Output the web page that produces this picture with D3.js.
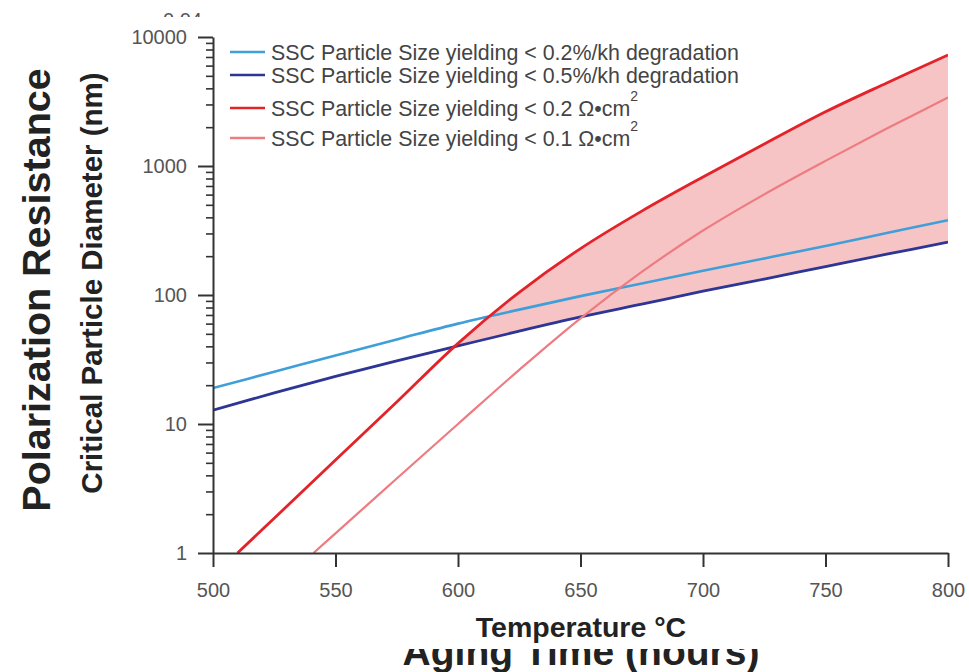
<!DOCTYPE html>
<html>
<head>
<meta charset="utf-8">
<script src="https://cdn.jsdelivr.net/npm/d3@7"></script>
<style>
  body { margin: 0; background: #fff; }
  svg { display: block; font-family: "Liberation Sans", Arial, sans-serif; }
</style>
</head>
<body>
<svg id="chart" width="969" height="672"></svg>
<script>
// temperatures (°C) and critical particle diameters (nm)
var temps = [500, 525, 550, 575, 600, 625, 650, 675, 700, 725, 750, 775, 800];
var lightBlue = [19, 25.4, 34, 45.2, 60, 77, 98, 123, 154, 192, 240, 302, 380];
var darkBlue = [12.8, 17.4, 23.4, 30.9, 40.3, 52.5, 67.6, 85, 107, 133, 166, 207, 257];

var redTemps = [510, 525, 550, 575, 600, 625, 650, 675, 700, 725, 750, 775, 800];
var red = [1, 1.86, 5.25, 14.8, 42.2, 105, 229, 447, 822, 1480, 2630, 4400, 7250];

var pinkTemps = [541, 550, 575, 600, 625, 650, 675, 700, 725, 750, 775, 800];
var pink = [1, 1.42, 3.78, 10, 26.3, 66, 151, 316, 603, 1096, 1950, 3390];

var xTicks = [500, 550, 600, 650, 700, 750, 800];
var yTicks = [1, 10, 100, 1000, 10000];

var legendLabels = [
  {text: "SSC Particle Size yielding < 0.2%/kh degradation", sup: ""},
  {text: "SSC Particle Size yielding < 0.5%/kh degradation", sup: ""},
  {text: "SSC Particle Size yielding < 0.2 \u03A9\u2022cm", sup: "2"},
  {text: "SSC Particle Size yielding < 0.1 \u03A9\u2022cm", sup: "2"}
];
var colors = ["#3f9fd8", "#2d3595", "#e3232a", "#ee7b80"];

var svg = d3.select("#chart");

var x = d3.scaleLinear().domain([500, 800]).range([213, 948]);
var y = d3.scaleLog().domain([1, 10000]).range([553, 37]);

var toPts = function(xs, ys) { return xs.map((t, i) => [t, ys[i]]); };
var curve = d3.curveCatmullRom.alpha(0.5);

var defs = svg.append("defs");
defs.append("clipPath").attr("id", "plot")
  .append("rect").attr("x", 213).attr("y", 37).attr("width", 735).attr("height", 516);

// region under the red curve, used to cut the shaded band
defs.append("clipPath").attr("id", "underRed")
  .append("path")
  .attr("d", d3.area()
    .x(d => x(d[0])).y0(553).y1(d => y(d[1]))
    .curve(curve)(toPts(redTemps, red)));

// shaded band: above dark blue, below red
svg.append("path")
  .attr("clip-path", "url(#underRed)")
  .attr("fill", "#f7c4c6")
  .attr("d", d3.area()
    .x(d => x(d[0])).y0(d => y(d[1])).y1(0)
    .curve(curve)(toPts(temps, darkBlue)));

var line = d3.line().x(d => x(d[0])).y(d => y(d[1])).curve(curve);

var series = [
  {pts: toPts(temps, lightBlue), c: colors[0], w: 2.6},
  {pts: toPts(temps, darkBlue), c: colors[1], w: 2.8},
  {pts: toPts(pinkTemps, pink), c: colors[3], w: 2.2},
  {pts: toPts(redTemps, red), c: colors[2], w: 2.8}
];

svg.append("g").attr("clip-path", "url(#plot)")
  .selectAll("path")
  .data(series)
  .join("path")
    .attr("fill", "none")
    .attr("stroke", d => d.c)
    .attr("stroke-width", d => d.w)
    .attr("d", d => line(d.pts));

// axes
var yMinor = [];
[1, 10, 100, 1000].forEach(p => { for (var k = 2; k <= 9; k++) yMinor.push(p * k); });

svg.append("g")
  .attr("transform", "translate(213,0)")
  .call(d3.axisLeft(y).tickValues(yMinor).tickSize(7).tickFormat(""))
  .call(g => g.select(".domain").remove())
  .call(g => g.selectAll("line").attr("stroke", "#333").attr("stroke-width", 1.6));

svg.append("g")
  .attr("transform", "translate(213,0)")
  .call(d3.axisLeft(y).tickValues(yTicks).tickSize(15).tickSizeOuter(0).tickPadding(11).tickFormat(d3.format("d")))
  .call(g => g.select(".domain").attr("stroke", "#333").attr("stroke-width", 2))
  .call(g => g.selectAll("line").attr("stroke", "#333").attr("stroke-width", 2))
  .call(g => g.selectAll("text").attr("fill", "#555").style("font-size", "20px"));

svg.append("g")
  .attr("transform", "translate(0,553)")
  .call(d3.axisBottom(x).tickValues(xTicks).tickSize(14).tickSizeOuter(0).tickPadding(16).tickFormat(d3.format("d")))
  .call(g => g.select(".domain").attr("stroke", "#333").attr("stroke-width", 2))
  .call(g => g.selectAll("line").attr("stroke", "#333").attr("stroke-width", 2))
  .call(g => g.selectAll("text").attr("fill", "#555").style("font-size", "20px"));

// legend
var leg = svg.append("g").selectAll("g")
  .data(legendLabels)
  .join("g")
    .attr("transform", (d, i) => "translate(0," + [52, 75, 108, 138][i] + ")");

leg.append("line")
  .attr("x1", 230).attr("x2", 265)
  .attr("stroke", (d, i) => colors[i]).attr("stroke-width", 2.6);

var lt = leg.append("text")
  .attr("x", 271).attr("y", 7.5)
  .attr("fill", "#444").style("font-size", "21.4px");
lt.append("tspan").text(d => d.text);
lt.append("tspan").attr("dy", -15).style("font-size", "14px").text(d => d.sup);

// axis titles
svg.append("text")
  .attr("transform", "translate(102,283) rotate(-90)")
  .attr("text-anchor", "middle")
  .style("font-size", "29.5px").style("font-weight", "bold").attr("fill", "#222")
  .text("Critical Particle Diameter (nm)");

svg.append("text")
  .attr("transform", "translate(50,290) rotate(-90)")
  .attr("text-anchor", "middle")
  .style("font-size", "39.5px").style("font-weight", "bold").attr("fill", "#222")
  .text("Polarization Resistance");

svg.append("text")
  .attr("x", 581).attr("y", 637)
  .attr("text-anchor", "middle")
  .style("font-size", "28.5px").style("font-weight", "bold").attr("fill", "#222")
  .text("Temperature \u00B0C");

// leftover pieces of the chart underneath, cut off
defs.append("clipPath").attr("id", "bottomCut")
  .append("rect").attr("x", 0).attr("y", 649).attr("width", 969).attr("height", 30);
svg.append("text")
  .attr("clip-path", "url(#bottomCut)")
  .attr("x", 581).attr("y", 665)
  .attr("text-anchor", "middle")
  .style("font-size", "39px").style("font-weight", "bold").attr("fill", "#222")
  .text("Aging Time (hours)");

defs.append("clipPath").attr("id", "topCut")
  .append("rect").attr("x", 0).attr("y", 0).attr("width", 969).attr("height", 17);
svg.append("text")
  .attr("clip-path", "url(#topCut)")
  .attr("x", 202).attr("y", 27)
  .attr("text-anchor", "end")
  .style("font-size", "20px").attr("fill", "#555")
  .text("0.04");
</script>
</body>
</html>
